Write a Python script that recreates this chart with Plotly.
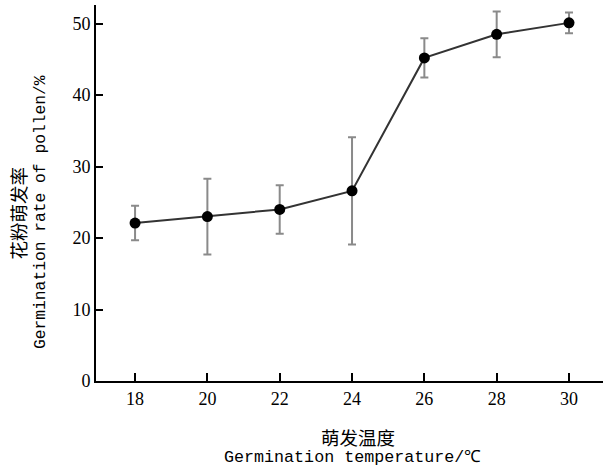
import plotly.graph_objects as go

temperatures = [18, 20, 22, 24, 26, 28, 30]
germination_rate = [22.1, 23.0, 24.0, 26.6, 45.2, 48.5, 50.1]
error_sd = [2.4, 5.3, 3.4, 7.5, 2.75, 3.2, 1.45]
x_ticks = [18, 20, 22, 24, 26, 28, 30]
y_ticks = [0, 10, 20, 30, 40, 50]

W, H = 603, 470
ML, MR, MT, MB = 96, 0, 5, 89
PW, PH = W - ML - MR, H - MT - MB

def px_x(p):
    return (p - ML) / PW

def px_y(p):
    return (H - MB - p) / PH

fig = go.Figure()
fig.add_trace(go.Scatter(
    x=temperatures, y=germination_rate,
    mode="lines+markers",
    line=dict(color="#333333", width=2),
    marker=dict(color="black", size=11),
    error_y=dict(type="data", array=error_sd, visible=True,
                 color="#8a8a8a", thickness=2, width=4),
    showlegend=False,
))

tick_font = dict(family="Liberation Serif, DejaVu Serif, serif", size=18, color="black")
fig.update_xaxes(
    range=[16.92, 30.94], tickvals=x_ticks, ticktext=[str(v) for v in x_ticks],
    ticks="inside", ticklen=8, tickwidth=2, tickcolor="black",
    showline=True, linecolor="black", linewidth=2, showgrid=False, zeroline=False,
    tickfont=tick_font,
)
fig.update_yaxes(
    range=[0, 52.6], tickvals=y_ticks, ticktext=[str(v) for v in y_ticks],
    ticks="inside", ticklen=7, tickwidth=2, tickcolor="black",
    showline=True, linecolor="black", linewidth=2, showgrid=False, zeroline=False,
    tickfont=tick_font,
)

cjk = "Noto Sans CJK SC"
mono = "Liberation Mono, DejaVu Sans Mono, monospace"
annots = [
    dict(text="花粉萌发率", x=px_x(17.5), y=px_y(213), textangle=-90,
         font=dict(family=cjk, size=18.5, color="black")),
    dict(text="Germination rate of pollen/%", x=px_x(41), y=px_y(212), textangle=-90,
         font=dict(family=mono, size=16.3, color="black")),
    dict(text="萌发温度", x=px_x(357.5), y=px_y(437),
         font=dict(family=cjk, size=18.5, color="black")),
    dict(text="Germination temperature/℃", x=px_x(352.5), y=px_y(457),
         font=dict(family=mono, size=16.7, color="black")),
]
for a in annots:
    fig.add_annotation(xref="paper", yref="paper", showarrow=False,
                       xanchor="center", yanchor="middle", **a)

fig.update_layout(
    width=W, height=H,
    margin=dict(l=ML, r=MR, t=MT, b=MB),
    paper_bgcolor="white", plot_bgcolor="white",
)
fig.write_html("out.html", config={"displayModeBar": False},
               post_script="document.body.style.margin='0';document.body.style.overflow='hidden';")
